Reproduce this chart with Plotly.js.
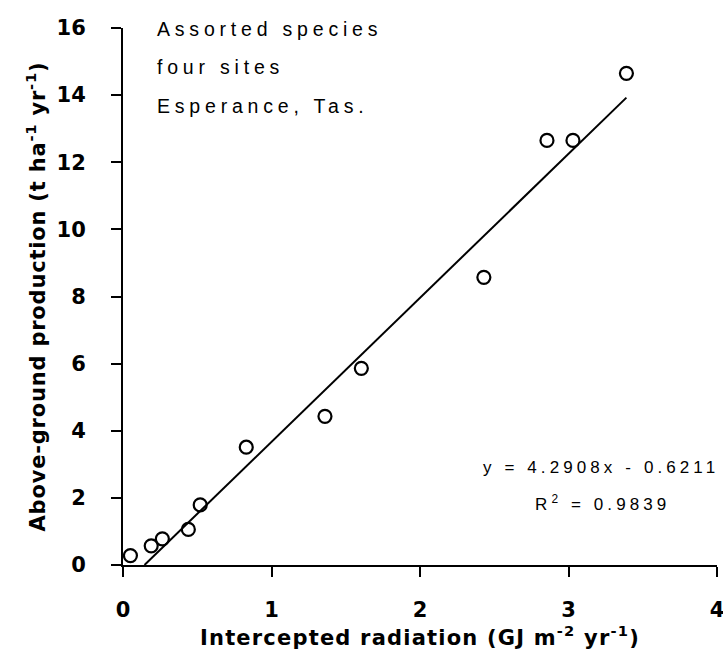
<!DOCTYPE html>
<html>
<head>
<meta charset="utf-8">
<script src="https://cdn.plot.ly/plotly-3.0.1.min.js"></script>
<style>
  html, body { margin: 0; padding: 0; background: #fff; }
  #chart { width: 723px; height: 656px; }
  .ytitle { letter-spacing: 0.8px; }
  .xtitle { letter-spacing: 1.2px; }
  text.annotation-text { letter-spacing: 4.8px; }
  text.annotation-text[style*="17px"] { letter-spacing: 4.1px; }
</style>
</head>
<body>
<div id="chart"></div>
<script>
// Observed points: intercepted radiation vs above-ground production
const radiation = [0.05, 0.19, 0.265, 0.44, 0.52, 0.83, 1.36, 1.605, 2.43, 2.855, 3.03, 3.39];
const production = [0.28, 0.57, 0.78, 1.06, 1.79, 3.51, 4.43, 5.86, 8.57, 12.65, 12.65, 14.65];

// Regression line as given on the chart
const slope = 4.2908;
const intercept = -0.6211;
const fitX = [-intercept / slope, 3.39];
const fitY = fitX.map(x => slope * x + intercept);

const xTickVals = [0, 1, 2, 3, 4];
const yTickVals = [0, 2, 4, 6, 8, 10, 12, 14, 16];

const noteLines = ["Assorted species", "four sites", "Esperance, Tas."];
const equationText = "y = 4.2908x - 0.6211";
const r2Text = "R<sup>2</sup> = 0.9839";

const traces = [
  {
    x: fitX, y: fitY, type: "scatter", mode: "lines",
    line: { color: "#000", width: 2 }, hoverinfo: "skip", showlegend: false
  },
  {
    x: radiation, y: production, type: "scatter", mode: "markers",
    marker: { symbol: "circle-open", size: 13, color: "#000", line: { color: "#000", width: 2.2 } },
    showlegend: false
  }
];

const boldFont = { family: "DejaVu Sans, Arial, sans-serif", size: 21, color: "#000", weight: "bold" };
const titleFont = { family: "DejaVu Sans, Arial, sans-serif", size: 21, color: "#000", weight: "bold" };

const noteY = [15.96, 14.83, 13.68];
const annotations = noteLines.map((t, i) => ({
  x: 0.215, y: noteY[i], xref: "x", yref: "y", text: t, showarrow: false,
  xanchor: "left", yanchor: "middle",
  font: { family: "Liberation Sans, Arial, sans-serif", size: 19.5, color: "#000" }
}));
annotations.push({
  x: 3.222, y: 2.92, xref: "x", yref: "y", text: equationText, showarrow: false,
  xanchor: "center", yanchor: "middle",
  font: { family: "Liberation Sans, Arial, sans-serif", size: 17, color: "#000" }
});
annotations.push({
  x: 3.232, y: 1.85, xref: "x", yref: "y", text: r2Text, showarrow: false,
  xanchor: "center", yanchor: "middle",
  font: { family: "Liberation Sans, Arial, sans-serif", size: 17, color: "#000" }
});

const layout = {
  width: 723, height: 656,
  margin: { l: 123, r: 6, t: 28, b: 91 },
  paper_bgcolor: "#fff", plot_bgcolor: "#fff",
  showlegend: false,
  xaxis: {
    range: [0, 4], tickvals: xTickVals, ticktext: xTickVals.map(String),
    showgrid: false, zeroline: false, showline: true, linecolor: "#000", linewidth: 2,
    ticks: "outside", ticklen: 10, tickwidth: 2, tickcolor: "#000",
    ticklabelstandoff: 15, ticklabeloverflow: "allow",
    tickfont: boldFont,
    title: { text: "Intercepted radiation (GJ m<sup>-2</sup> yr<sup>-1</sup>)", font: titleFont, standoff: 6 },
    automargin: false
  },
  yaxis: {
    range: [0, 16], tickvals: yTickVals, ticktext: yTickVals.map(String),
    showgrid: false, zeroline: false, showline: true, linecolor: "#000", linewidth: 2,
    ticks: "outside", ticklen: 10, tickwidth: 2, tickcolor: "#000",
    ticklabelstandoff: 21, ticklabeloverflow: "allow",
    tickfont: boldFont,
    title: { text: "Above-ground production (t ha<sup>-1</sup> yr<sup>-1</sup>)", font: titleFont, standoff: 5 },
    automargin: false
  },
  annotations: annotations
};

Plotly.newPlot("chart", traces, layout, { staticPlot: true, displayModeBar: false });
</script>
</body>
</html>
